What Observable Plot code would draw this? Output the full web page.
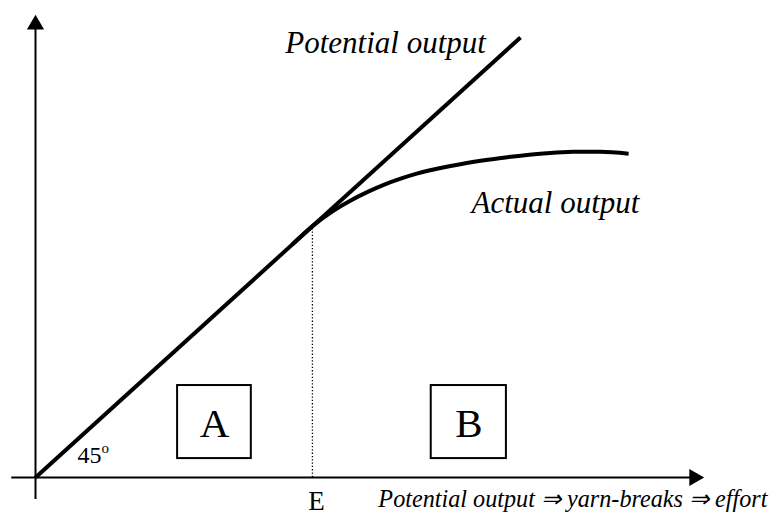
<!DOCTYPE html>
<html>
<head>
<meta charset="utf-8">
<script src="https://cdn.jsdelivr.net/npm/d3@7"></script>
<script src="https://cdn.jsdelivr.net/npm/@observablehq/plot@0.6"></script>
<style>
  html, body { margin: 0; padding: 0; background: #fff; }
</style>
</head>
<body>
<div id="chart"></div>
<script>
// Units: potential output line is y = x (45°)
const potentialX = [0, 100];
const potentialY = [0, 100];

const actualX = [53.0, 57.3, 61.4, 64.9, 68.5, 71.8, 75.3, 78.8, 82.1, 85.6, 91.8, 97.3, 104.1, 110.9, 116.5, 122.3];
const actualY = [53.0, 57.3, 60.6, 62.9, 64.9, 66.5, 67.9, 69.1, 70.0, 70.8, 72.0, 72.8, 73.6, 74.0, 74.0, 73.6];

const eValue = 57.1;             // point E on the x axis
const xAxisExtent = [-4.9, 137.9]; // tip of x arrow
const yAxisExtent = [-5.0, 105.2]; // tip of y arrow

const boxLabels = ["A", "B"];
const boxX1 = [29.3, 81.6];
const boxX2 = [44.5, 97.1];
const boxY1 = [4.3, 4.3];
const boxY2 = [20.9, 20.9];

const lineLabels = ["Potential output", "Actual output"];
const lineLabelX = [51.5, 89.9];
const lineLabelY = [96.4, 60.0];

const xAxisLabel = "Potential output \u21D2 yarn-breaks \u21D2 effort";
const angleLabel = "45";

const serif = "'Liberation Serif', 'Times New Roman', serif";

const potential = potentialX.map((x, i) => ({x, y: potentialY[i]}));
const actual = actualX.map((x, i) => ({x, y: actualY[i]}));
const boxes = boxLabels.map((label, i) => ({label, x1: boxX1[i], x2: boxX2[i], y1: boxY1[i], y2: boxY2[i]}));
const lineTexts = lineLabels.map((label, i) => ({label, x: lineLabelX[i], y: lineLabelY[i]}));

const chart = Plot.plot({
  width: 777,
  height: 516,
  marginLeft: 35,
  marginRight: 0,
  marginTop: 0,
  marginBottom: 39,
  x: {domain: [0, 153], axis: null},
  y: {domain: [0, 108.4], axis: null},
  style: {fontFamily: serif, background: "white", overflow: "visible"},
  marks: [
    // axes
    Plot.ruleY([0], {x1: xAxisExtent[0], x2: xAxisExtent[1] - 2, stroke: "black", strokeWidth: 2}),
    Plot.ruleX([0], {y1: yAxisExtent[0], y2: yAxisExtent[1] - 2, stroke: "black", strokeWidth: 2}),
    Plot.dot([{x: xAxisExtent[1], y: 0}], {x: "x", y: "y", symbol: "triangle", r: 6.4, fill: "black", stroke: null, rotate: 90, dx: -10}),
    Plot.dot([{x: 0, y: yAxisExtent[1]}], {x: "x", y: "y", symbol: "triangle", r: 6.4, fill: "black", stroke: null, dy: 10}),
    // dotted E line
    Plot.ruleX([eValue], {y1: 0, y2: eValue, stroke: "black", strokeWidth: 1.3, strokeDasharray: "1.3,2"}),
    // boxes
    Plot.rect(boxes, {x1: "x1", x2: "x2", y1: "y1", y2: "y2", fill: "white", stroke: "black", strokeWidth: 2}),
    Plot.text(boxes, {x: d => (d.x1 + d.x2) / 2, y: d => (d.y1 + d.y2) / 2, text: "label", fontSize: 41, lineAnchor: "middle", dy: 2, fill: "black"}),
    // lines
    Plot.line(potential, {x: "x", y: "y", stroke: "black", strokeWidth: 4, strokeLinecap: "butt"}),
    Plot.line(actual, {x: "x", y: "y", stroke: "black", strokeWidth: 4, curve: "catmull-rom", strokeLinecap: "butt"}),
    // labels
    Plot.text(lineTexts, {x: "x", y: "y", text: "label", fontSize: 31, fontStyle: "italic", textAnchor: "start", lineAnchor: "bottom", fill: "black"}),
    Plot.text([xAxisLabel], {x: 70.7, y: 0, dy: 29, text: d => d, fontSize: 24.2, fontStyle: "italic", textAnchor: "start", lineAnchor: "bottom", fill: "black"}),
    Plot.text(["E"], {x: eValue, y: 0, dy: 32, dx: 4, text: d => d, fontSize: 27, textAnchor: "middle", lineAnchor: "bottom", fill: "black"}),
    Plot.text([angleLabel], {x: 8.66, y: 3.4, text: d => d, fontSize: 24, textAnchor: "start", lineAnchor: "bottom", fill: "black"}),
    Plot.text(["o"], {x: 8.66, y: 3.4, dx: 24, dy: -10, text: d => d, fontSize: 15, textAnchor: "start", lineAnchor: "bottom", fill: "black"})
  ]
});
document.getElementById("chart").appendChild(chart);
</script>
</body>
</html>
